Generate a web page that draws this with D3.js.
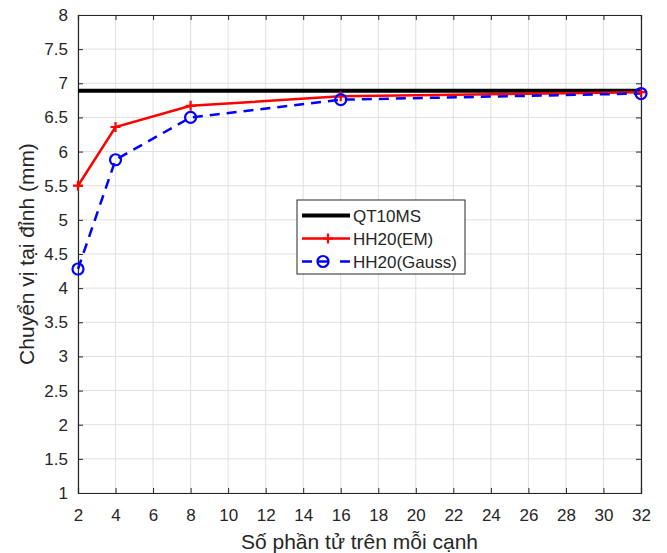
<!DOCTYPE html>
<html>
<head>
<meta charset="utf-8">
<script src="https://cdn.jsdelivr.net/npm/d3@7"></script>
<style>
  body { margin: 0; background: #fff; }
  text { font-family: "Liberation Sans", Arial, sans-serif; }
</style>
</head>
<body>
<script>
// data
var elements = [2, 4, 8, 16, 32];
var qt10ms = [6.89, 6.89, 6.89, 6.89, 6.89];
var hhEM = [5.5, 6.36, 6.67, 6.81, 6.87];
var hhGauss = [4.28, 5.88, 6.5, 6.76, 6.85];
var xTicks = d3.range(2, 33, 2);
var yTicks = d3.range(1, 8.01, 0.5);

var margin = {top: 15, right: 26, bottom: 60, left: 78},
    width = 641 - margin.left,
    height = 493 - margin.top;

var svg = d3.select("body").append("svg")
    .attr("width", 667)
    .attr("height", 553)
  .append("g")
    .attr("transform", "translate(" + margin.left + "," + margin.top + ")");

var x = d3.scaleLinear().domain([2, 32]).range([0, width]);
var y = d3.scaleLinear().domain([1, 8]).range([height, 0]);

// grid
svg.append("g").selectAll("line").data(xTicks).enter().append("line")
    .attr("x1", d => x(d)).attr("x2", d => x(d))
    .attr("y1", 0).attr("y2", height)
    .style("stroke", "#e0e0e0").style("stroke-width", 1);
svg.append("g").selectAll("line").data(yTicks).enter().append("line")
    .attr("y1", d => y(d)).attr("y2", d => y(d))
    .attr("x1", 0).attr("x2", width)
    .style("stroke", "#e0e0e0").style("stroke-width", 1);

// axes, ticks inside
var fmt = d => d3.format("")(d);
var gx = svg.append("g").attr("transform", "translate(0," + height + ")")
    .call(d3.axisBottom(x).tickValues(xTicks).tickSize(-5).tickPadding(16).tickFormat(fmt));
var gxTop = svg.append("g")
    .call(d3.axisTop(x).tickValues(xTicks).tickSize(-5).tickFormat(""));
var gy = svg.append("g")
    .call(d3.axisLeft(y).tickValues(yTicks).tickSize(-5).tickPadding(10).tickFormat(fmt));
var gyRight = svg.append("g").attr("transform", "translate(" + width + ",0)")
    .call(d3.axisRight(y).tickValues(yTicks).tickSize(-5).tickFormat(""));

[gx, gxTop, gy, gyRight].forEach(function(g) {
  g.select(".domain").style("stroke", "#262626").style("stroke-width", 1.2);
  g.selectAll(".tick line").style("stroke", "#262626");
  g.selectAll(".tick text").style("font-size", "17px").style("fill", "#262626")
    .style("font-family", "'Liberation Sans', Arial, sans-serif");
});

// lines
var line = d3.line().x(d => x(d[0])).y(d => y(d[1]));
function pts(vals) { return elements.map((e, i) => [e, vals[i]]); }

svg.append("path").datum(pts(qt10ms)).attr("d", line)
    .style("fill", "none").style("stroke", "#000").style("stroke-width", 4);

svg.append("path").datum(pts(hhEM)).attr("d", line)
    .style("fill", "none").style("stroke", "#ff0000").style("stroke-width", 2.5);

svg.append("path").datum(pts(hhGauss)).attr("d", line)
    .style("fill", "none").style("stroke", "#0000ff").style("stroke-width", 2.5)
    .style("stroke-dasharray", "10,7");

// markers
svg.append("g").selectAll("path").data(pts(hhEM)).enter().append("path")
    .attr("d", d => "M" + (x(d[0]) - 5) + "," + y(d[1]) + "h10M" + x(d[0]) + "," + (y(d[1]) - 5) + "v10")
    .style("stroke", "#ff0000").style("stroke-width", 2.2);

svg.append("g").selectAll("circle").data(pts(hhGauss)).enter().append("circle")
    .attr("cx", d => x(d[0])).attr("cy", d => y(d[1])).attr("r", 5.5)
    .style("fill", "none").style("stroke", "#0000ff").style("stroke-width", 2.2);

// axis labels
svg.append("text")
    .attr("x", width / 2).attr("y", height + 56)
    .attr("text-anchor", "middle")
    .style("font-size", "21px").style("fill", "#262626")
    .text("Số phần tử trên mỗi cạnh");

svg.append("text")
    .attr("transform", "translate(" + (-44) + "," + (height / 2) + ") rotate(-90)")
    .attr("text-anchor", "middle")
    .style("font-size", "21px").style("fill", "#262626")
    .text("Chuyển vị tại đỉnh (mm)");

// legend
var legendItems = [
  {name: "QT10MS", color: "#000", width: 4, dash: null, marker: "none"},
  {name: "HH20(EM)", color: "#ff0000", width: 2.5, dash: null, marker: "plus"},
  {name: "HH20(Gauss)", color: "#0000ff", width: 2.5, dash: "10,28", marker: "circle"}
];
var lg = svg.append("g").attr("transform", "translate(" + (297 - margin.left) + "," + (200 - margin.top) + ")");
lg.append("rect").attr("width", 168).attr("height", 74)
    .style("fill", "#fff").style("stroke", "#262626").style("stroke-width", 1);
legendItems.forEach(function(d, i) {
  var yy = 15.5 + i * 23;
  lg.append("line").attr("x1", 5).attr("x2", 53).attr("y1", yy).attr("y2", yy)
    .style("stroke", d.color).style("stroke-width", d.width)
    .style("stroke-dasharray", d.dash);
  if (d.marker === "plus") {
    lg.append("path").attr("d", "M26," + yy + "h10M31," + (yy - 5) + "v10")
      .style("stroke", d.color).style("stroke-width", 2.2);
  } else if (d.marker === "circle") {
    lg.append("circle").attr("cx", 26).attr("cy", yy).attr("r", 5.5)
      .style("fill", "none").style("stroke", d.color).style("stroke-width", 2.2);
    lg.append("line").attr("x1", 20).attr("x2", 32).attr("y1", yy).attr("y2", yy)
      .style("stroke", d.color).style("stroke-width", 2.5);
  }
  lg.append("text").attr("x", 56).attr("y", yy + 6)
    .style("font-size", "17px").style("fill", "#262626").text(d.name);
});
</script>
</body>
</html>
